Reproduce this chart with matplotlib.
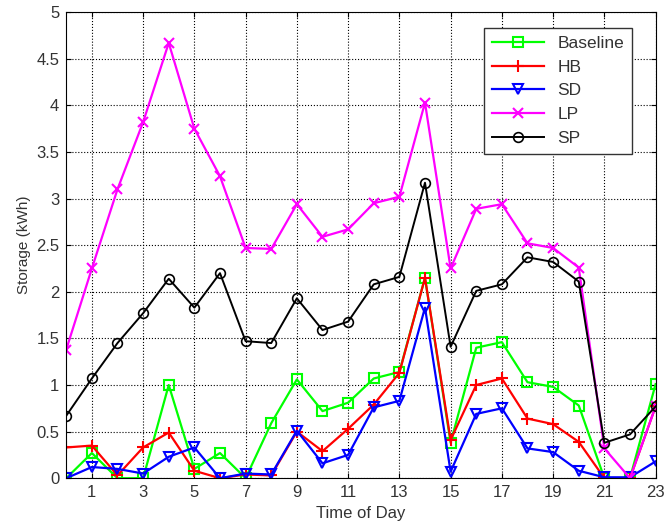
import matplotlib
matplotlib.use('Agg')
import matplotlib.pyplot as plt

plt.rcParams['font.family'] = ['Liberation Sans', 'DejaVu Sans']

hours = list(range(24))
baseline = [0, 0.27, 0, 0, 1.0, 0.1, 0.27, 0, 0.59, 1.06, 0.72, 0.81,
            1.07, 1.14, 2.15, 0.38, 1.40, 1.46, 1.03, 0.98, 0.78, 0, 0, 1.01]
hb = [0.33, 0.35, 0.03, 0.33, 0.49, 0.08, 0, 0.04, 0.03, 0.50, 0.29, 0.53,
      0.79, 1.13, 2.15, 0.41, 1.00, 1.07, 0.64, 0.58, 0.39, 0, 0, 0.77]
sd = [0, 0.12, 0.10, 0.05, 0.23, 0.33, 0, 0.05, 0.04, 0.51, 0.16, 0.25,
      0.76, 0.83, 1.83, 0.07, 0.69, 0.75, 0.32, 0.28, 0.08, 0.01, 0.01, 0.18]
lp = [1.38, 2.25, 3.10, 3.82, 4.67, 3.75, 3.24, 2.47, 2.46, 2.94, 2.59, 2.67,
      2.95, 3.02, 4.03, 2.25, 2.89, 2.94, 2.52, 2.47, 2.26, 0.32, 0, 0.77]
sp = [0.67, 1.07, 1.45, 1.77, 2.14, 1.83, 2.20, 1.47, 1.45, 1.93, 1.59, 1.68,
      2.08, 2.16, 3.17, 1.41, 2.01, 2.08, 2.37, 2.32, 2.11, 0.38, 0.47, 0.77]

txt = '#333333'

fig = plt.figure(figsize=(6.69, 5.29), dpi=100)
ax = fig.add_axes([0.099, 0.096, 0.881, 0.881])

ax.plot(hours, baseline, color='#00ff00', marker='s', mfc='none', ms=7, lw=1.6, mew=1.5, label='Baseline')
ax.plot(hours, hb, color='red', marker='+', ms=9, lw=1.6, mew=1.5, label='HB')
ax.plot(hours, sd, color='blue', marker='v', mfc='none', ms=7, lw=1.6, mew=1.5, label='SD')
ax.plot(hours, lp, color='magenta', marker='x', ms=7, lw=1.6, mew=1.5, label='LP')
ax.plot(hours, sp, color='black', marker='o', mfc='none', ms=7, lw=1.4, mew=1.2, label='SP')

ax.set_xlim(0, 23)
ax.set_ylim(0, 5)
ax.set_xticks(range(1, 24, 2))
ax.set_yticks([0, 0.5, 1, 1.5, 2, 2.5, 3, 3.5, 4, 4.5, 5])
ax.set_yticklabels(['0', '0.5', '1', '1.5', '2', '2.5', '3', '3.5', '4', '4.5', '5'])
ax.tick_params(direction='in', labelsize=12, top=True, right=True, labelcolor=txt, pad=5)
ax.grid(True, linestyle=':', color='black', linewidth=0.8)
ax.set_xlabel('Time of Day', fontsize=12, color=txt)
ax.set_ylabel('Storage (kWh)', fontsize=11, color=txt)

leg = ax.legend(loc='upper right', bbox_to_anchor=(0.975, 0.985), fontsize=12.5,
                fancybox=False, framealpha=1, edgecolor='#333333', handlelength=3,
                labelspacing=0.5, borderpad=0.45)
leg.get_frame().set_linewidth(1.0)
for t in leg.get_texts():
    t.set_color(txt)

fig.savefig('out.png', dpi=100)
